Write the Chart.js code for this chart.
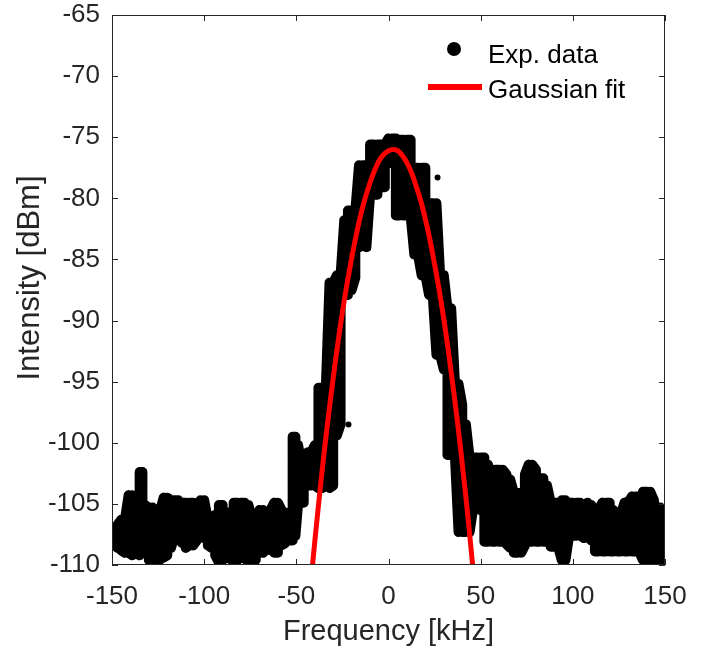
<!DOCTYPE html>
<html><head><meta charset="utf-8">
<script src="https://cdn.jsdelivr.net/npm/chart.js@4"></script>
<style>html,body{margin:0;padding:0;background:#fff;}#wrap{width:713px;height:649px;position:relative;}</style>
</head><body><div id="wrap"><canvas id="c" width="713" height="649"></canvas></div>
<script>
// ---- data ----
const seriesNames = ['Exp. data', 'Gaussian fit'];
const axisTitles = {x: 'Frequency [kHz]', y: 'Intensity [dBm]'};
const xTicks = [-150, -100, -50, 0, 50, 100, 150];
const yTicks = [-110, -105, -100, -95, -90, -85, -80, -75, -70, -65];

// measured spectrum: per-frequency spread (upper / lower level)
const expFreq = [-147,-145,-143,-141,-139,-137,-135,-133.5,-132,-130,-128,-126,-124,-122,-120,-118,-116,-114,-112,-110,-108,-106,-104,-102,-100,-98,-96,-94,-92,-90,-88,-86,-84,-82,-80,-78,-76,-74,-72,-70,-68,-66,-64,-62,-60,-58,-56,-54,-52,-50.5,-49,-47.5,-46,-44,-42,-40,-38,-36,-34,-32,-30,-28,-26,-24,-22,-20,-18,-16,-14,-12,-10,-8,-6,-4,-2,0,2,4,6,8,10,12,14,16,18,20,22,24,26,28,30,32,34,36,38,40,42,44,46,48,50,52,54,56,58,60,62,64,66,68,70,72,74,76,78,80,82,84,86,88,90,92,94,96,98,100,102,104,106,108,110,112,114,116,118,120,122,124,126,128,130,132,134,136,138,140,142,144,146,147.5];
const expHigh = [-106.7,-106.3,-106.3,-104.3,-104.3,-104.7,-102.4,-102.4,-105.1,-105.3,-105.3,-105.6,-105.6,-104.5,-104.5,-104.7,-104.7,-104.7,-104.9,-104.9,-104.9,-104.9,-105.1,-104.7,-104.7,-106.3,-106.7,-105.9,-105.1,-105.1,-105.7,-105.7,-104.9,-104.9,-104.9,-104.9,-105.1,-106.2,-106.2,-105.5,-105.5,-105.9,-105.5,-104.9,-104.9,-105.5,-105.7,-105.9,-99.5,-99.5,-100.2,-101.6,-101.6,-100.8,-100.8,-100.2,-95.5,-95.5,-95.5,-86.9,-86.9,-86.3,-86.3,-81.8,-81.0,-81.0,-81.0,-77.3,-77.3,-77.3,-75.6,-75.6,-75.6,-75.6,-75.6,-75.1,-75.1,-75.1,-75.2,-75.2,-75.2,-75.2,-77.5,-77.5,-77.5,-77.5,-80.4,-80.4,-80.4,-86.3,-86.3,-89.0,-89.0,-95.0,-95.2,-96.9,-98.5,-101.2,-101.2,-101.2,-101.2,-101.2,-101.8,-103.0,-102.2,-102.2,-102.2,-102.6,-103.0,-104.1,-104.1,-104.1,-102.6,-101.8,-101.8,-102.2,-102.9,-102.9,-103.5,-104.9,-104.9,-104.9,-104.7,-104.7,-104.9,-104.9,-104.9,-104.9,-105.1,-104.9,-105.1,-105.5,-105.5,-104.9,-104.9,-104.9,-105.5,-105.9,-105.9,-104.9,-104.9,-104.4,-104.4,-104.4,-104.0,-104.0,-104.0,-104.7,-105.3,-105.3];
const expLow = [-108.6,-108.8,-109.0,-109.0,-109.2,-109.0,-109.2,-108.8,-109.0,-109.6,-109.8,-109.8,-109.6,-109.4,-109.2,-108.6,-107.6,-107.8,-108.2,-108.6,-108.4,-108.4,-108.0,-107.6,-107.8,-108.4,-108.6,-109.2,-109.8,-109.6,-109.4,-109.4,-109.8,-109.6,-109.4,-109.4,-109.8,-109.8,-109.6,-108.8,-109.0,-108.8,-108.6,-109.0,-109.0,-108.4,-108.2,-108.0,-108.0,-107.6,-104.9,-104.9,-104.9,-103.5,-103.5,-103.5,-103.7,-103.7,-103.5,-103.7,-103.5,-99.4,-98.5,-87.9,-87.9,-87.5,-86.5,-84.0,-81.9,-84.0,-79.7,-79.7,-79.7,-79.1,-79.1,-77.1,-77.1,-81.4,-81.4,-81.4,-81.4,-81.4,-84.6,-84.6,-86.3,-86.3,-87.9,-87.9,-92.8,-92.8,-94.0,-101.0,-101.0,-101.0,-107.3,-107.3,-107.3,-107.3,-105.3,-105.3,-105.5,-108.1,-108.1,-108.1,-108.1,-108.1,-108.1,-108.3,-108.6,-109.0,-109.0,-109.0,-108.4,-108.1,-108.1,-108.1,-108.1,-108.1,-108.1,-108.5,-108.5,-108.5,-109.6,-109.6,-107.6,-107.6,-107.6,-107.6,-107.8,-107.6,-108.0,-108.9,-108.9,-108.9,-108.9,-108.9,-108.9,-108.9,-108.9,-108.9,-108.9,-108.9,-108.9,-108.9,-109.6,-109.6,-109.6,-109.8,-109.8,-109.8];
// isolated samples
const strayFreq = [-21.7, 16.8, 26.6];
const strayLevel = [-98.5, -85.7, -78.3];

// Gaussian fit curve
const fitFreq = [-42.5,-40,-37.5,-35,-32.5,-30,-27.5,-25,-22.5,-20,-17.5,-15,-12.5,-10,-7.5,-5,-2.5,0,2.5,5,7.5,10,12.5,15,17.5,20,22.5,25,27.5,30,32.5,35,37.5,40,42.5,45,47.5];
const fitLevel = [-112.0,-108.1,-104.4,-100.9,-97.7,-94.7,-91.9,-89.3,-87.0,-84.9,-83.0,-81.3,-79.9,-78.7,-77.7,-76.9,-76.4,-76.1,-76.0,-76.1,-76.5,-77.1,-77.9,-79.0,-80.2,-81.7,-83.4,-85.4,-87.5,-89.9,-92.5,-95.4,-98.4,-101.7,-105.2,-109.0,-112.9];

// ---- build library data ----
const expPts = [];
expFreq.forEach((f, i) => {
  const lo = {x: f, y: expLow[i]}, hi = {x: f, y: expHigh[i]};
  if (i % 2 === 0) expPts.push(lo, hi); else expPts.push(hi, lo);
});
const strayPts = strayFreq.map((f, i) => ({x: f, y: strayLevel[i]}));
const fitPts = fitFreq.map((f, i) => ({x: f, y: fitLevel[i]}));

const AX = '#262626';
const FONT = "'Liberation Sans', Arial, Helvetica, sans-serif";

const boxPlugin = {
  id: 'matlabBox',
  afterDatasetsDraw(chart) {
    const {ctx, chartArea: a, scales: {x, y}} = chart;
    ctx.save();
    ctx.strokeStyle = AX; ctx.lineWidth = 1;
    ctx.beginPath();
    ctx.rect(a.left + 0.5, a.top + 0.5, a.right - a.left - 1, a.bottom - a.top - 1);
    const tl = 6;
    xTicks.forEach(v => {
      const px = Math.round(x.getPixelForValue(v)) + 0.5;
      ctx.moveTo(px, a.bottom); ctx.lineTo(px, a.bottom - tl);
      ctx.moveTo(px, a.top); ctx.lineTo(px, a.top + tl);
    });
    yTicks.forEach(v => {
      const py = Math.round(y.getPixelForValue(v)) + 0.5;
      ctx.moveTo(a.left, py); ctx.lineTo(a.left + tl, py);
      ctx.moveTo(a.right, py); ctx.lineTo(a.right - tl, py);
    });
    ctx.stroke();
    // legend (inside, top right, no box)
    ctx.fillStyle = '#000';
    ctx.beginPath(); ctx.arc(454, 49, 7, 0, Math.PI * 2); ctx.fill();
    ctx.strokeStyle = '#ff0000'; ctx.lineWidth = 6;
    ctx.beginPath(); ctx.moveTo(428, 87); ctx.lineTo(482, 87); ctx.stroke();
    ctx.fillStyle = '#000';
    ctx.font = "26px " + FONT;
    ctx.textBaseline = 'alphabetic'; ctx.textAlign = 'left';
    ctx.fillText(seriesNames[0], 488, 63);
    ctx.fillText(seriesNames[1], 488, 98);
    // y-axis title
    ctx.fillStyle = AX;
    ctx.font = "31px " + FONT;
    ctx.translate(30, 278);
    ctx.rotate(-Math.PI / 2);
    ctx.textAlign = 'center'; ctx.textBaseline = 'middle';
    ctx.fillText(axisTitles.y, 0, 0);
    ctx.restore();
  }
};

new Chart(document.getElementById('c'), {
  type: 'scatter',
  data: {
    datasets: [
      {label: seriesNames[1], data: fitPts, showLine: true, borderColor: '#ff0000', borderWidth: 5,
       pointRadius: 0, tension: 0.3, clip: 0, order: 0},
      {label: seriesNames[0], data: expPts, showLine: true, borderColor: '#000', backgroundColor: '#000',
       borderWidth: 10, borderCapStyle: 'round', borderJoinStyle: 'round', pointRadius: 0, tension: 0, clip: 0, order: 1},
      {label: 'stray', data: strayPts, showLine: false, pointRadius: 3, backgroundColor: '#000', borderWidth: 0, clip: 0, order: 1}
    ]
  },
  options: {
    responsive: false, animation: false, devicePixelRatio: 1,
    layout: {padding: {top: 15, right: 48, left: 0, bottom: 0}},
    plugins: {legend: {display: false}, tooltip: {enabled: false}},
    scales: {
      x: {
        type: 'linear', min: -150, max: 150,
        afterBuildTicks: s => { s.ticks = xTicks.map(v => ({value: v})); },
        afterFit: s => { s.height = 84; s.paddingLeft = 0; s.paddingRight = 0; },
        grid: {display: false, drawTicks: false},
        border: {display: false},
        ticks: {color: AX, font: {family: FONT, size: 26}, padding: 16, maxRotation: 0, autoSkip: false},
        title: {display: true, text: axisTitles.x, color: AX, font: {family: FONT, size: 29}, padding: 0}
      },
      y: {
        type: 'linear', min: -110, max: -65,
        afterBuildTicks: s => { s.ticks = yTicks.map(v => ({value: v})); },
        afterFit: s => { s.width = 112; s.paddingTop = 0; s.paddingBottom = 0; },
        grid: {display: false, drawTicks: false},
        border: {display: false},
        ticks: {color: AX, font: {family: FONT, size: 26}, padding: 12, autoSkip: false},
        title: {display: false}
      }
    }
  },
  plugins: [boxPlugin]
});
</script>
</body></html>
